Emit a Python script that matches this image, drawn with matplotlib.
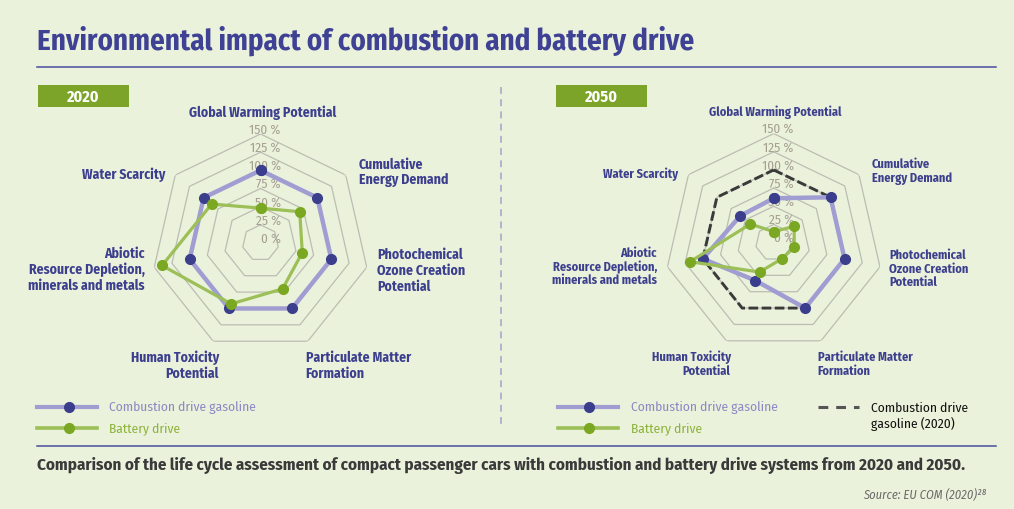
import numpy as np
import matplotlib
matplotlib.use("Agg")
import matplotlib.pyplot as plt
from matplotlib.lines import Line2D
from matplotlib.patches import Rectangle
from matplotlib import font_manager

# data (percent, combustion 2020 = 100 %)
categories = ["Global Warming Potential", "Cumulative\nEnergy Demand",
              "Photochemical\nOzone Creation\nPotential", "Particulate Matter\nFormation",
              "Human Toxicity\nPotential", "Abiotic\nResource Depletion,\nminerals and metals",
              "Water Scarcity"]
ring_values = [25, 50, 75, 100, 125, 150]
tick_values = [0, 25, 50, 75, 100, 125, 150]
tick_labels = ["0 %", "25 %", "50 %", "75 %", "100 %", "125 %", "150 %"]

combustion_2020 = [100, 100, 100, 100, 100, 100, 100]
battery_2020 = [48, 69, 59, 70, 93, 139, 86]
combustion_2050 = [61, 100, 100, 100, 58, 100, 59]
battery_2050 = [15, 36, 29, 25, 45, 118, 41]

W, H = 1014, 510
bg = "#EBF2DB"
navy = "#3E4194"
lab_blue = "#3C3F8E"
purple_line = "#A09DD3"
purple_mark = "#3B3E8C"
green_line = "#9CBF57"
green_mark = "#7BA823"
grid_c = "#BBBDB3"
tick_c = "#A59F92"

# condensed font if there is one, otherwise shrink DejaVu
avail = {f.name for f in font_manager.fontManager.ttflist}
cond = None
for n in ['Fira Sans Condensed', 'Roboto Condensed', 'Asap Condensed', 'Archivo Narrow',
          'Liberation Sans Narrow']:
    if n in avail:
        cond = n
        break
if cond:
    plt.rcParams['font.family'] = [cond, 'DejaVu Sans']
    k = 1.0
else:
    plt.rcParams['font.family'] = ['DejaVu Sans']
    k = 0.78

fig = plt.figure(figsize=(W / 100, H / 100), dpi=100, facecolor=bg)


def fx(x):
    return x / W


def fy(y):
    return 1 - y / H


theta = np.linspace(0, 2 * np.pi, len(categories), endpoint=False)
theta_c = np.append(theta, theta[0])


def close(v):
    return list(v) + [v[0]]


def radar(cx, cy, R):
    ax = fig.add_axes([fx(cx - R), fy(cy + R), 2 * R / W, 2 * R / H], projection='polar')
    ax.set_theta_zero_location('N')
    ax.set_theta_direction(-1)
    ax.set_ylim(0, 150)
    ax.set_xticks([])
    ax.set_yticks([])
    ax.grid(False)
    ax.spines['polar'].set_visible(False)
    ax.patch.set_alpha(0)
    for r in ring_values:
        ax.plot(theta_c, [r] * len(theta_c), color=grid_c, lw=0.9, zorder=1)
    for v, t in zip(tick_values, tick_labels):
        ax.annotate(t, xy=(0, v), xytext=(14.5, 3.6), textcoords='offset points',
                    ha='right', va='center', fontsize=9.5 * k, color=tick_c, zorder=2)
    return ax


# 2020
ax1 = radar(260.5, 244, 109)
ax1.plot(theta_c, close(combustion_2020), color=purple_line, lw=3.2, marker='o', ms=7,
         mfc=purple_mark, mec=purple_mark, zorder=3, clip_on=False)
ax1.plot(theta_c, close(battery_2020), color=green_line, lw=2.3, marker='o', ms=7,
         mfc=green_mark, mec=green_mark, zorder=4, clip_on=False)

# 2050
ax2 = radar(773.7, 243.6, 109)
ax2.plot(theta_c, close(combustion_2020), color="#3A3A3A", lw=2.1, ls=(0, (3.3, 1.2)), zorder=3)
ax2.plot(theta_c, close(combustion_2050), color=purple_line, lw=3.2, marker='o', ms=7,
         mfc=purple_mark, mec=purple_mark, zorder=4, clip_on=False)
ax2.plot(theta_c, close(battery_2050), color=green_line, lw=2.3, marker='o', ms=7,
         mfc=green_mark, mec=green_mark, zorder=5, clip_on=False)

# category labels (x, y, ha)
left_pos = [(263, 113, 'center'), (359, 172.5, 'left'), (377, 270.8, 'left'),
            (305.7, 365.8, 'left'), (219, 365.8, 'right'), (145, 269.6, 'right'),
            (165.7, 174.3, 'right')]
right_pos = [(775.5, 112.7, 'center'), (871.7, 171.5, 'left'), (889, 269, 'left'),
             (817.7, 364.3, 'left'), (730.7, 364.3, 'right'), (657, 267, 'right'),
             (678, 174, 'right')]
for (x, y, ha), c in zip(left_pos, categories):
    fig.text(fx(x), fy(y), c, ha=ha, va='center', multialignment=ha,
             fontsize=9.9 * k, fontweight='bold', color=lab_blue, linespacing=1.13)
for (x, y, ha), c in zip(right_pos, categories):
    fig.text(fx(x), fy(y), c, ha=ha, va='center', multialignment=ha,
             fontsize=8.9 * k, fontweight='bold', color=lab_blue, linespacing=1.1)

# title and rules
fig.text(fx(37), fy(41), "Environmental impact of combustion and battery drive", ha='left',
         va='center', fontsize=20.8 * k, fontweight='bold', color=navy)
fig.add_artist(Line2D([fx(37), fx(996)], [fy(68), fy(68)], color="#4A4D9E", lw=1.1))
fig.add_artist(Line2D([fx(37), fx(996)], [fy(447), fy(447)], color="#4A4D9E", lw=1.1))
fig.add_artist(Line2D([fx(501), fx(501)], [fy(88), fy(430)], color="#A3A3C6", lw=1.1,
                      ls=(0, (4.5, 3.5))))

# year boxes
for x0, yr in [(38, "2020"), (556, "2050")]:
    fig.add_artist(Rectangle((fx(x0), fy(108)), 91 / W, 22 / H, transform=fig.transFigure,
                             facecolor="#7BA428", edgecolor='none'))
    fig.text(fx(x0 + 45.5), fy(97.5), yr, ha='center', va='center', fontsize=11.5 * k,
             fontweight='bold', color='white')

# legends
for x0, x1, xm, xt in [(36.7, 96.7, 69, 109.3), (558.3, 617.7, 589.3, 630.7)]:
    fig.add_artist(Line2D([fx(x0), fx(x1)], [fy(407.7)] * 2, color=purple_line, lw=3))
    fig.add_artist(Line2D([fx(xm)], [fy(407.7)], marker='o', ms=7, color=purple_mark))
    fig.text(fx(xt), fy(407.7), "Combustion drive gasoline", ha='left', va='center',
             fontsize=9.7 * k, color="#8C89C3")
    fig.add_artist(Line2D([fx(x0), fx(x1)], [fy(429)] * 2, color=green_line, lw=2.6))
    fig.add_artist(Line2D([fx(xm)], [fy(429)], marker='o', ms=7, color=green_mark))
    fig.text(fx(xt), fy(429), "Battery drive", ha='left', va='center',
             fontsize=9.7 * k, color="#8DB33B")
fig.add_artist(Line2D([fx(818.3), fx(859.3)], [fy(408.3)] * 2, color="#555555", lw=2.2,
                      ls=(0, (3.2, 2.6))))
fig.text(fx(870.7), fy(416.5), "Combustion drive\ngasoline (2020)", ha='left', va='center',
         fontsize=9.7 * k, color="#111111", linespacing=1.2)

# caption + source
fig.text(fx(37), fy(466), "Comparison of the life cycle assessment of compact passenger cars with "
         "combustion and battery drive systems from 2020 and 2050.", ha='left', va='center',
         fontsize=12.2 * k, fontweight='bold', color="#3A3A3A")
fig.text(fx(986), fy(494), "Source: EU COM (2020)\u00b2\u2078", ha='right', va='center',
         fontsize=9 * k, style='italic', color="#6A6A6A")

fig.savefig("out.png", dpi=100, facecolor=bg)
